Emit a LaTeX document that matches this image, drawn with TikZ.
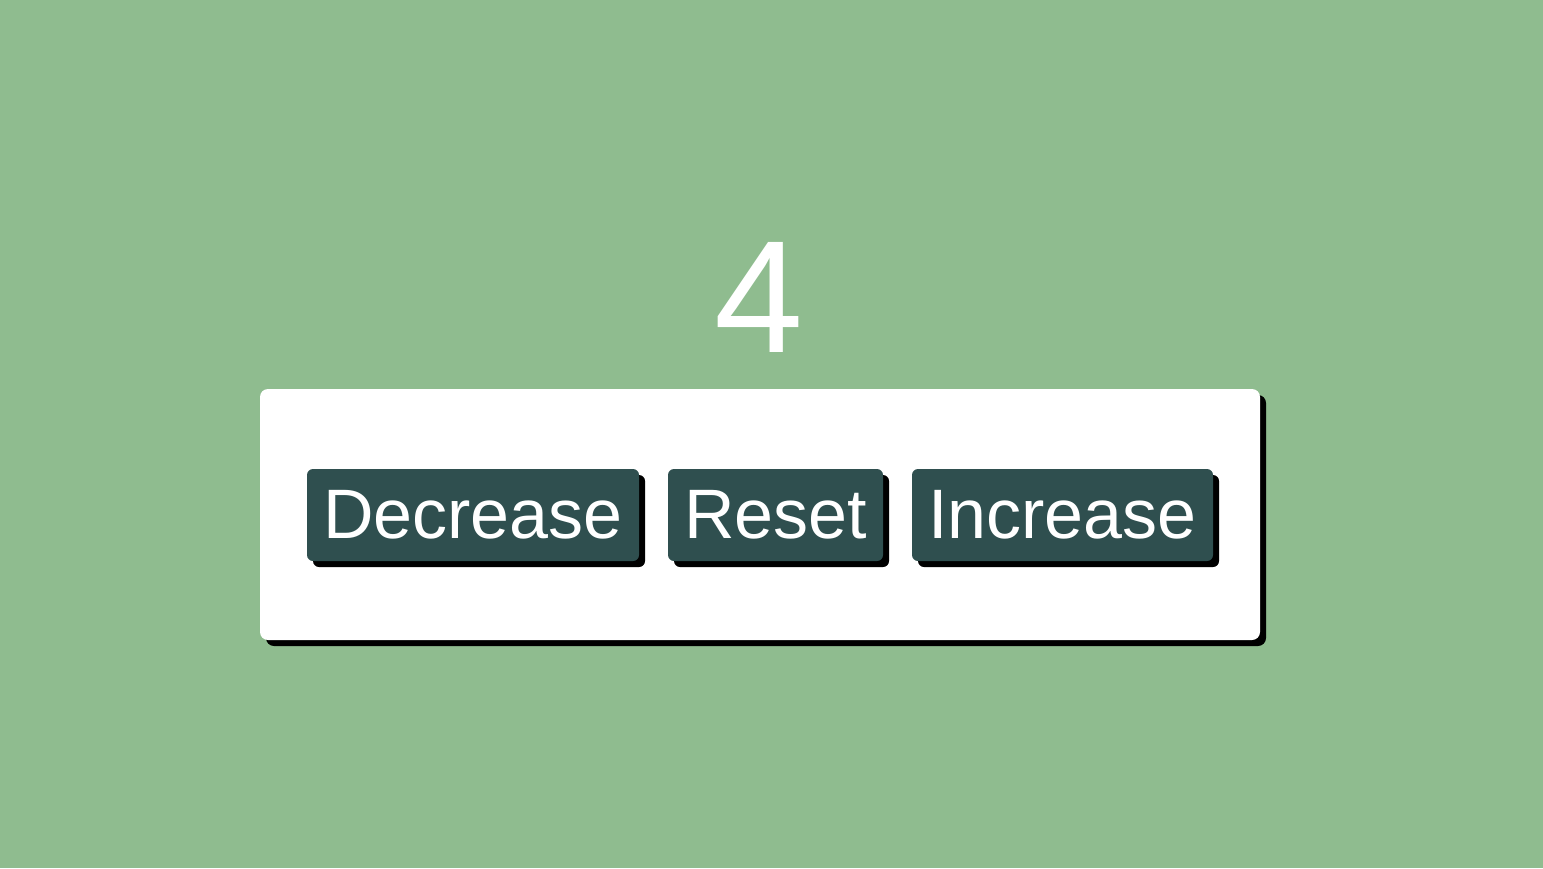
\documentclass[tikz,border=0pt]{standalone}
\usepackage{fontspec}
\setmainfont{Liberation Sans}
\usetikzlibrary{shadows}
\definecolor{bggreen}{HTML}{8FBC8F}
\definecolor{btncol}{HTML}{2F4F4F}
\tikzset{
  card/.style={rectangle, rounded corners=8pt, fill=white, inner sep=0pt,
    minimum width=1000pt, minimum height=251pt,
    drop shadow={shadow xshift=6pt, shadow yshift=-6pt, fill=black, opacity=1}},
  btn/.style={rectangle, rounded corners=6pt, fill=btncol, inner sep=0pt,
    minimum height=92pt, text=white,
    font=\fontsize{70pt}{70pt}\selectfont,
    drop shadow={shadow xshift=6pt, shadow yshift=-6pt, fill=black, opacity=1}},
  btnlabel/.style={text=white, inner sep=0pt, anchor=base,
    font=\fontsize{70pt}{70pt}\selectfont},
  counter/.style={text=white, inner sep=0pt, anchor=base,
    font=\fontsize{160pt}{160pt}\selectfont}
}
\begin{document}
\begin{tikzpicture}[x=1pt,y=-1pt]
\fill[bggreen] (0,0) rectangle (1543,868);
\useasboundingbox (0,0) rectangle (1543,868);
\node[counter] (count) at (759,352) {4};
\node[card] (panel) at (760,514.5) {};
\node[btn, minimum width=332pt] (dec) at (473,515) {};
\node[btn, minimum width=215pt] (reset) at (775.5,515) {};
\node[btn, minimum width=301pt] (inc) at (1062.5,515) {};
\node[btnlabel] (declbl) at (473,538) {Decrease};
\node[btnlabel] (resetlbl) at (775.5,538) {Reset};
\node[btnlabel] (inclbl) at (1062.5,538) {Increase};
\end{tikzpicture}
\end{document}
